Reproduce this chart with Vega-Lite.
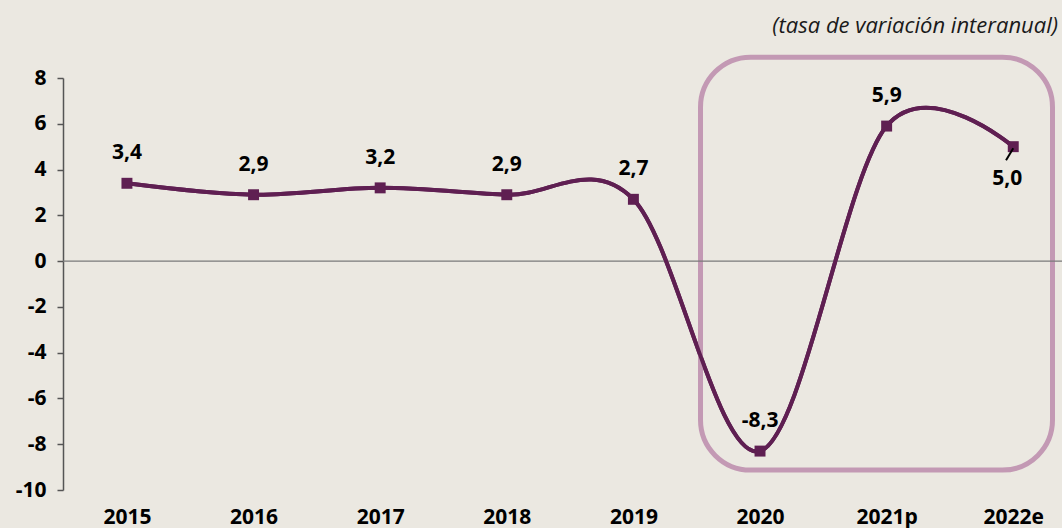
{
  "$schema": "https://vega.github.io/schema/vega-lite/v6.json",
  "width": 999,
  "height": 412,
  "autosize": {"type": "none"},
  "padding": {"left": 63, "top": 78, "right": 0, "bottom": 38},
  "background": "#ebe8e1",
  "config": {
    "view": {"stroke": null},
    "locale": {"number": {"decimal": ",", "thousands": ".", "grouping": [3], "currency": ["", " €"], "minus": "-"}},
    "font": "Open Sans"
  },
  "title": {
    "text": "(tasa de variación interanual)",
    "anchor": "end",
    "frame": "group",
    "offset": 17,
    "dx": -4,
    "font": "Open Sans",
    "fontSize": 22,
    "fontStyle": "italic",
    "fontWeight": "normal",
    "color": "#1a1a1a"
  },
  "datasets": {
    "series": [
      {"i": 0, "year": "2015", "value": 3.4},
      {"i": 1, "year": "2016", "value": 2.9},
      {"i": 2, "year": "2017", "value": 3.2},
      {"i": 3, "year": "2018", "value": 2.9},
      {"i": 4, "year": "2019", "value": 2.7},
      {"i": 5, "year": "2020", "value": -8.3},
      {"i": 6, "year": "2021p", "value": 5.9},
      {"i": 7, "year": "2022e", "value": 5.0}
    ],
    "box": [{"x1": 4.53, "x2": 7.31, "y1": -9.13, "y2": 8.91}],
    "leader": [{"x1": 7.0, "x2": 6.943, "y1": 4.93, "y2": 4.41}]
  },
  "layer": [
    {
      "data": {"name": "series"},
      "mark": {"type": "line", "interpolate": "cardinal", "color": "#5f1f52", "strokeWidth": 4},
      "encoding": {
        "x": {
          "field": "i", "type": "quantitative",
          "scale": {"domain": [-0.505, 7.385], "nice": false, "zero": false},
          "axis": {
            "values": [0, 1, 2, 3, 4, 5, 6, 7],
            "labelExpr": "['2015','2016','2017','2018','2019','2020','2021p','2022e'][datum.value]",
            "domain": false, "ticks": false, "grid": false, "title": null,
            "labelFont": "Open Sans", "labelFontWeight": "bold", "labelFontSize": 21, "labelColor": "#000000",
            "labelPadding": 16, "labelFlush": false, "labelOverlap": false
          }
        },
        "y": {
          "field": "value", "type": "quantitative",
          "scale": {"domain": [-10, 8], "nice": false},
          "axis": {
            "values": [-10, -8, -6, -4, -2, 0, 2, 4, 6, 8],
            "format": "d",
            "domainColor": "#555555", "domainWidth": 1.5, "tickColor": "#555555", "tickWidth": 1.5, "tickSize": 6,
            "grid": false, "title": null,
            "labelFont": "Open Sans", "labelFontWeight": "bold", "labelFontSize": 21, "labelColor": "#000000",
            "labelPadding": 11
          }
        }
      }
    },
    {
      "data": {"name": "box"},
      "mark": {"type": "rect", "fill": null, "filled": false, "stroke": "#c399b4", "strokeWidth": 5, "cornerRadius": 50},
      "encoding": {
        "x": {"field": "x1", "type": "quantitative"},
        "x2": {"field": "x2"},
        "y": {"field": "y1", "type": "quantitative"},
        "y2": {"field": "y2"}
      }
    },
    {
      "data": {"values": [{"v": 0}]},
      "mark": {"type": "rule", "color": "#7a7a7a", "strokeWidth": 1.2},
      "encoding": {"y": {"field": "v", "type": "quantitative"}}
    },
    {
      "data": {"name": "series"},
      "mark": {"type": "line", "interpolate": "cardinal", "color": "#5f1f52", "strokeWidth": 4},
      "encoding": {
        "x": {"field": "i", "type": "quantitative"},
        "y": {"field": "value", "type": "quantitative"}
      }
    },
    {
      "data": {"name": "series"},
      "mark": {"type": "point", "shape": "square", "filled": true, "size": 120, "color": "#5f1f52", "opacity": 1},
      "encoding": {
        "x": {"field": "i", "type": "quantitative"},
        "y": {"field": "value", "type": "quantitative"}
      }
    },
    {
      "data": {"name": "series"},
      "transform": [{"filter": "datum.i < 7"}],
      "mark": {"type": "text", "dy": -30, "baseline": "middle", "align": "center", "font": "Open Sans", "fontWeight": "bold", "fontSize": 21, "color": "#000000"},
      "encoding": {
        "x": {"field": "i", "type": "quantitative"},
        "y": {"field": "value", "type": "quantitative"},
        "text": {"field": "value", "type": "quantitative", "format": ".1f"}
      }
    },
    {
      "data": {"name": "series"},
      "transform": [{"filter": "datum.i == 7"}],
      "mark": {"type": "text", "dy": 32, "dx": -6, "baseline": "middle", "align": "center", "font": "Open Sans", "fontWeight": "bold", "fontSize": 21, "color": "#000000"},
      "encoding": {
        "x": {"field": "i", "type": "quantitative"},
        "y": {"field": "value", "type": "quantitative"},
        "text": {"field": "value", "type": "quantitative", "format": ".1f"}
      }
    },
    {
      "data": {"name": "leader"},
      "mark": {"type": "rule", "color": "#000000", "strokeWidth": 2},
      "encoding": {
        "x": {"field": "x1", "type": "quantitative"},
        "x2": {"field": "x2"},
        "y": {"field": "y1", "type": "quantitative"},
        "y2": {"field": "y2"}
      }
    }
  ]
}
